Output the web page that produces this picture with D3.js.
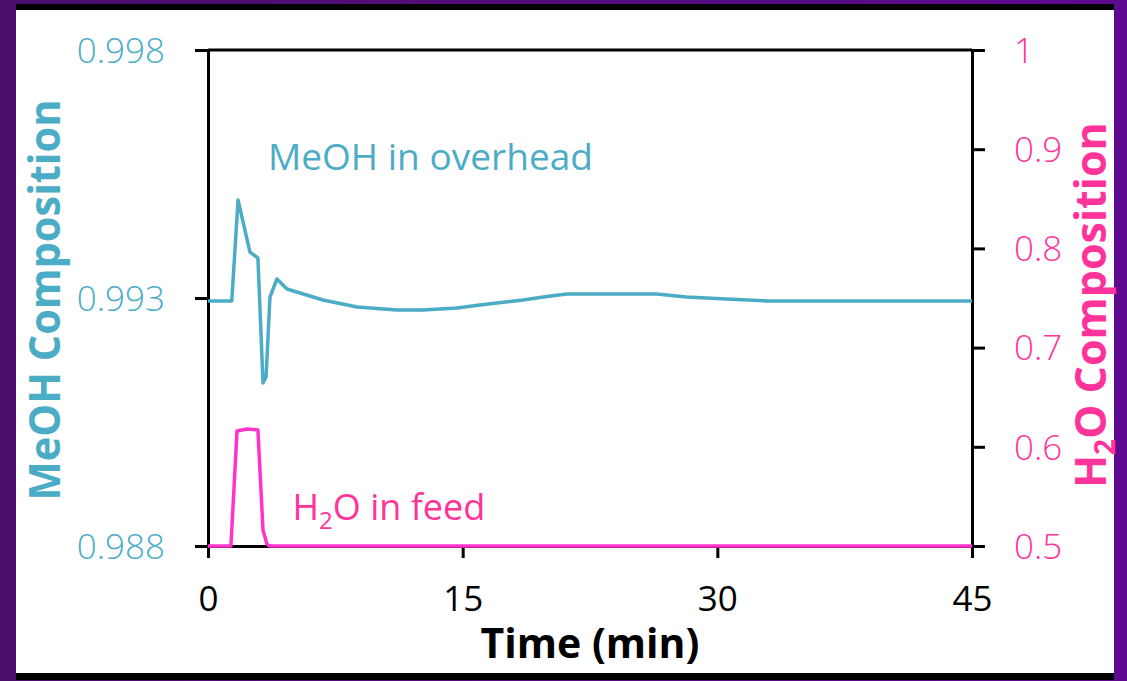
<!DOCTYPE html>
<html>
<head>
<meta charset="utf-8">
<script src="https://cdn.jsdelivr.net/npm/d3@7"></script>
<style>
  body { margin: 0; background: #520d7c; }
  svg { display: block; font-family: "Open Sans", sans-serif; }
  svg text { font-family: "Open Sans", sans-serif; }
</style>
</head>
<body>
<div id="chart"></div>
<script>
// MeOH in overhead (left axis)
const meohTime = [0, 1.40, 1.77, 2.47, 2.94, 3.24, 3.42, 3.65, 4.06, 4.65, 5.42, 6.77, 8.78, 11.13, 12.66, 14.67, 16.0, 18.55, 19.97, 21.13, 26.43, 28.2, 30.55, 32.9, 45];
const meohComp = [0.99294, 0.99294, 0.994976, 0.993927, 0.993806, 0.991286, 0.991407, 0.99302, 0.993383, 0.993181, 0.993101, 0.99296, 0.992819, 0.992758, 0.992758, 0.992798, 0.992859, 0.99296, 0.99303, 0.993081, 0.993081, 0.99302, 0.99298, 0.99294, 0.99294];

// H2O in feed (right axis)
const h2oTime = [0, 1.35, 1.71, 2.30, 2.94, 3.24, 3.47, 3.6, 45];
const h2oComp = [0.5, 0.5, 0.616, 0.618, 0.617, 0.516, 0.502, 0.5, 0.5];

const timeTicks = [0, 15, 30, 45];
const leftTicks = [0.988, 0.993, 0.998];
const rightTicks = [0.5, 0.6, 0.7, 0.8, 0.9, 1];

const blue = "#4bacc6";
const pinkText = "#ff3399";
const pinkLine = "#ff33cc";

const W = 1127, H = 681;
const svg = d3.select("#chart").append("svg")
    .attr("width", W)
    .attr("height", H);

// purple background + white panel
const grad = svg.append("defs").append("linearGradient")
    .attr("id", "bg").attr("x1", "0").attr("x2", "1").attr("y1", "0").attr("y2", "0");
grad.append("stop").attr("offset", "0").attr("stop-color", "#4a0e6c");
grad.append("stop").attr("offset", "1").attr("stop-color", "#5e0a90");
svg.append("rect").attr("width", W).attr("height", H).attr("fill", "url(#bg)");
svg.append("rect").attr("x", 16).attr("y", 4).attr("width", 1098).attr("height", 676).attr("fill", "#000");
svg.append("rect").attr("x", 16).attr("y", 10).attr("width", 1098).attr("height", 663).attr("fill", "#fff");

const x = d3.scaleLinear().domain([0, 45]).range([208, 972]);
const yL = d3.scaleLinear().domain([0.988, 0.998]).range([546, 50]);
const yR = d3.scaleLinear().domain([0.5, 1]).range([546, 50]);

// axes
const gLeft = svg.append("g").attr("transform", "translate(208,0)")
    .call(d3.axisLeft(yL).tickValues(leftTicks).tickSize(13).tickSizeOuter(0)
        .tickPadding(30).tickFormat(d3.format(".3f")));
gLeft.selectAll("text").attr("fill", blue).style("font-size", "35px").style("font-weight", 300).attr("dy", "0.35em");

const gRight = svg.append("g").attr("transform", "translate(972,0)")
    .call(d3.axisRight(yR).tickValues(rightTicks).tickSize(13).tickSizeOuter(0)
        .tickPadding(29).tickFormat(d => d === 1 ? "1" : d3.format(".1f")(d)));
gRight.selectAll("text").attr("fill", pinkText).style("font-size", "35px").style("font-weight", 300).attr("dy", "0.35em");

const gBottom = svg.append("g").attr("transform", "translate(0,546)")
    .call(d3.axisBottom(x).tickValues(timeTicks).tickSize(12).tickSizeOuter(0).tickPadding(28));
gBottom.selectAll("text").attr("fill", "#000").style("font-size", "35px").attr("dy", "0.71em");

svg.selectAll(".domain, .tick line").attr("stroke", "#000").attr("stroke-width", 3);

// top frame line
svg.append("line")
    .attr("x1", x(0)).attr("x2", x(45))
    .attr("y1", yL(0.998)).attr("y2", yL(0.998))
    .attr("stroke", "#000").attr("stroke-width", 3);

// series
const meohLine = d3.line().x((d, i) => x(meohTime[i])).y(d => yL(d));
svg.append("path")
    .attr("d", meohLine(meohComp))
    .attr("fill", "none").attr("stroke", blue).attr("stroke-width", 3.5)
    .attr("stroke-linejoin", "round");

const h2oLine = d3.line().x((d, i) => x(h2oTime[i])).y(d => yR(d));
svg.append("path")
    .attr("d", h2oLine(h2oComp))
    .attr("fill", "none").attr("stroke", pinkLine).attr("stroke-width", 3.5)
    .attr("stroke-linejoin", "round");

// series labels
svg.append("text")
    .attr("x", x(3.53)).attr("y", yL(0.99558))
    .attr("fill", blue).style("font-size", "36px")
    .attr("textLength", 325).attr("lengthAdjust", "spacingAndGlyphs")
    .text("MeOH in overhead");

const h2oLbl = svg.append("text")
    .attr("x", x(4.98)).attr("y", yR(0.526))
    .attr("fill", pinkText).style("font-size", "36px");
h2oLbl.append("tspan").text("H");
h2oLbl.append("tspan").attr("dy", 9).style("font-size", "24px").text("2");
h2oLbl.append("tspan").attr("dy", -9).text("O in feed");

// axis titles
svg.append("text")
    .attr("transform", "translate(60,300) rotate(-90)")
    .attr("text-anchor", "middle")
    .attr("fill", blue).style("font-size", "43px").style("font-weight", 700)
    .attr("textLength", 401).attr("lengthAdjust", "spacingAndGlyphs")
    .text("MeOH Composition");

const rTitle = svg.append("text")
    .attr("transform", "translate(1106,305) rotate(-90)")
    .attr("text-anchor", "middle")
    .attr("fill", pinkText).style("font-size", "43px").style("font-weight", 700);
rTitle.append("tspan").text("H");
rTitle.append("tspan").attr("dy", 9).style("font-size", "28px").text("2");
rTitle.append("tspan").attr("dy", -9).text("O Composition");

svg.append("text")
    .attr("x", x(22.5)).attr("y", 658)
    .attr("text-anchor", "middle")
    .attr("fill", "#000").style("font-size", "41px").style("font-weight", 700)
    .text("Time (min)");
</script>
</body>
</html>
